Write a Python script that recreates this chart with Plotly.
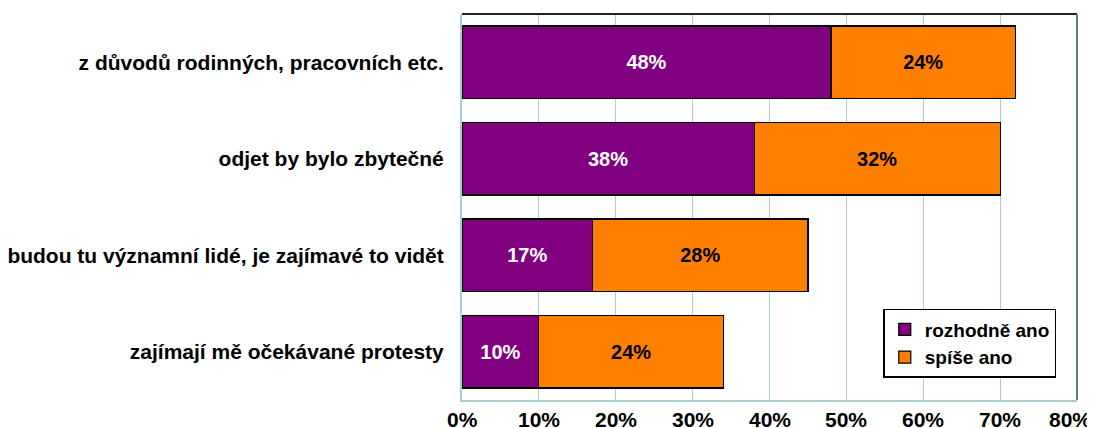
import plotly.graph_objects as go

categories = [
    "z důvodů rodinných, pracovních etc.",
    "odjet by bylo zbytečné",
    "budou tu významní lidé, je zajímavé to vidět",
    "zajímají mě očekávané protesty",
]
rozhodne_ano = [48, 38, 17, 10]
spise_ano = [24, 32, 28, 24]
tick_vals = [0, 10, 20, 30, 40, 50, 60, 70, 80]
tick_text = [f"{v}%" for v in tick_vals]

FONT = "Liberation Sans, Arial, sans-serif"
cat_labels = [f"<b>{c}</b>" for c in categories]

fig = go.Figure()
fig.add_trace(go.Bar(
    y=cat_labels, x=rozhodne_ano, orientation="h", name="<b>rozhodně ano</b>",
    marker=dict(color="#800080", line=dict(color="black", width=1.2)),
    text=[f"<b>{v}%</b>" for v in rozhodne_ano], textposition="inside",
    insidetextanchor="middle",
    textfont=dict(color="white", size=20, family=FONT),
))
fig.add_trace(go.Bar(
    y=cat_labels, x=spise_ano, orientation="h", name="<b>spíše ano</b>",
    marker=dict(color="#FF8000", line=dict(color="black", width=1.2)),
    text=[f"<b>{v}%</b>" for v in spise_ano], textposition="inside",
    insidetextanchor="middle",
    textfont=dict(color="black", size=20, family=FONT),
))

# the page body has an 8px default margin, so the figure is sized to fit
fig.update_layout(
    barmode="stack",
    bargap=0.25,
    width=1087, height=420,
    margin=dict(l=454, r=18, t=6, b=28, autoexpand=False),
    paper_bgcolor="white", plot_bgcolor="white",
    font=dict(family=FONT, size=20, color="black"),
    uniformtext=dict(mode="show", minsize=20),
    xaxis=dict(
        range=[0, 80], tickvals=tick_vals, showticklabels=False,
        showgrid=True, gridcolor="#a8cfd0", gridwidth=1,
        showline=True, linecolor="#a8cfd0", linewidth=2,
        ticks="", zeroline=False, automargin=False,
    ),
    yaxis=dict(
        autorange="reversed", showline=True, linecolor="#a8cfd0", linewidth=2,
        ticks="", ticklabelstandoff=12, automargin=False,
        tickfont=dict(size=21, family=FONT, color="black"),
    ),
    legend=dict(
        x=0.685, y=0.057, xanchor="left", yanchor="bottom",
        bordercolor="black", borderwidth=1.5, bgcolor="white",
        font=dict(size=19, family=FONT, color="black"),
        traceorder="normal", tracegroupgap=0, itemwidth=30,
    ),
    showlegend=True,
)
# x tick labels as annotations placed on the x axis (so they stay inside the page)
for i, (v, t) in enumerate(zip(tick_vals, tick_text)):
    last = i == len(tick_vals) - 1
    fig.add_annotation(
        x=v, xref="x", y=0, yref="paper",
        text=f"<b>{t}</b>", showarrow=False,
        xanchor="right" if last else "center", yanchor="top",
        xshift=16 if last else 0, yshift=-6,
        font=dict(size=21, family=FONT, color="black"),
    )
# top and right border of plot area
fig.add_shape(type="line", xref="paper", yref="paper", x0=0, x1=1, y0=1, y1=1,
              line=dict(color="#222222", width=2))
fig.add_shape(type="line", xref="paper", yref="paper", x0=1, x1=1, y0=0, y1=1,
              line=dict(color="#5f7f85", width=2))

fig.write_html("out.html")
